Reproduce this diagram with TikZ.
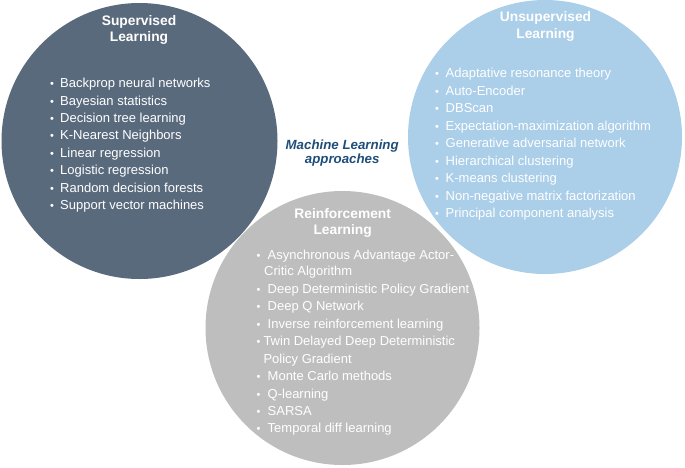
\documentclass[tikz,border=0pt]{standalone}
\usepackage{fontspec}
\setmainfont{Liberation Sans}
\definecolor{slate}{HTML}{5A6A7D}
\definecolor{skyb}{HTML}{ABCEE9}
\definecolor{greyc}{HTML}{BEBEBE}
\definecolor{navyt}{HTML}{1F4E7A}
\begin{document}
\begin{tikzpicture}[x=1pt,y=-1pt,
  circ/.style={circle,minimum size=#1,inner sep=0pt},
  ttl/.style={text=white,font=\fontsize{13.8}{16}\selectfont\bfseries,anchor=base,inner sep=0pt},
  ctr/.style={text=navyt,font=\fontsize{13.3}{14}\selectfont\bfseries\itshape,anchor=base,inner sep=0pt},
  itm/.style={text=white,font=\fontsize{13}{14}\selectfont,anchor=base west,inner sep=0pt},
  bul/.style={text=white,font=\fontsize{11}{12}\selectfont,anchor=base,inner sep=0pt}]
\useasboundingbox (0,0) rectangle (685,467);
\node[circ=276pt,fill=slate] (sup) at (139.5,141) {};
\node[circ=274pt,fill=skyb] (uns) at (545,137) {};
\node[circ=274pt,fill=greyc] (rei) at (342.5,328) {};
% titles
\node[ttl] (tsup1) at (139,25.5) {Supervised};
\node[ttl] (tsup2) at (139,41.5) {Learning};
\node[ttl] (tuns1) at (545.5,21.7) {Unsupervised};
\node[ttl] (tuns2) at (545.5,38.5) {Learning};
\node[ttl] (trei1) at (342.7,218.3) {Reinforcement};
\node[ttl] (trei2) at (342.7,234.5) {Learning};
\node[ctr] (ctr1) at (342.2,149.3) {Machine Learning};
\node[ctr] (ctr2) at (342.2,163) {approaches};
% supervised items
\foreach \t [count=\i] in {Backprop neural networks,Bayesian statistics,Decision tree learning,K-Nearest Neighbors,Linear regression,Logistic regression,Random decision forests,Support vector machines}{
  \node[itm] (s\i) at (60,{87.7+17.4*(\i-1)}) {\t};
  \node[bul] (sb\i) at (52,{87.7+17.4*(\i-1)}) {•};
}
% unsupervised items
\foreach \t [count=\i] in {Adaptative resonance theory,Auto-Encoder,DBScan,Expectation-maximization algorithm,Generative adversarial network,Hierarchical clustering,K-means clustering,Non-negative matrix factorization,Principal component analysis}{
  \node[itm] (u\i) at (445.5,{77.5+17.5*(\i-1)}) {\t};
  \node[bul] (ub\i) at (437,{77.5+17.5*(\i-1)}) {•};
}
% reinforcement items
\node[itm] (r1) at (267.5,259) {Asynchronous Advantage Actor-};
\node[itm] (r1b) at (264,275.8) {Critic Algorithm};
\node[itm] (r2) at (267.5,293.3) {Deep Deterministic Policy Gradient};
\node[itm] (r3) at (267.5,310.7) {Deep Q Network};
\node[itm] (r4) at (267.5,328.2) {Inverse reinforcement learning};
\node[itm] (r5) at (263.3,345.8) {Twin Delayed Deep Deterministic};
\node[itm] (r5b) at (263.3,363.2) {Policy Gradient};
\node[itm] (r6) at (267.5,380.6) {Monte Carlo methods};
\node[itm] (r7) at (267.5,398) {Q-learning};
\node[itm] (r8) at (267.5,415.3) {SARSA};
\node[itm] (r9) at (267.5,432.7) {Temporal diff learning};
\node[bul] (rb1) at (258.5,259) {•};
\node[bul] (rb2) at (258.5,293.3) {•};
\node[bul] (rb3) at (258.5,310.7) {•};
\node[bul] (rb4) at (258.5,328.2) {•};
\node[bul] (rb5) at (258.5,345.8) {•};
\node[bul] (rb6) at (258.5,380.6) {•};
\node[bul] (rb7) at (258.5,398) {•};
\node[bul] (rb8) at (258.5,415.3) {•};
\node[bul] (rb9) at (258.5,432.7) {•};
\end{tikzpicture}
\end{document}
